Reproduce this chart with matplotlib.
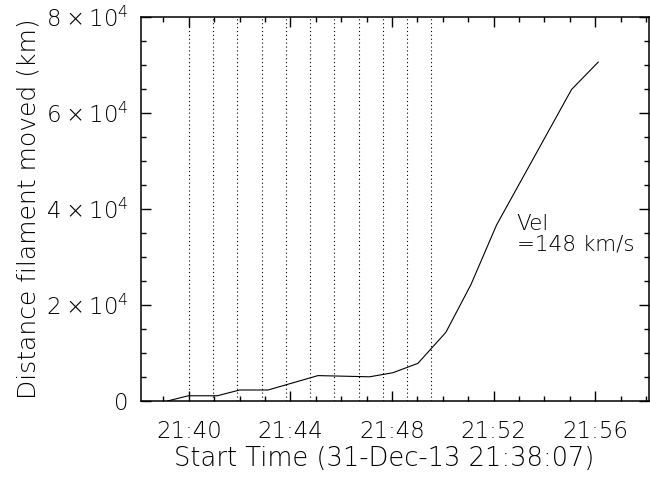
import matplotlib
matplotlib.use('Agg')
import matplotlib.pyplot as plt
from matplotlib.ticker import FixedLocator, MultipleLocator, FuncFormatter

# time axis: seconds after the start time 21:38:07
start_label = 'Start Time (31-Dec-13 21:38:07)'
start_sec = 21 * 3600 + 38 * 60 + 7

# distance the filament moved (km) at each frame
times = [62, 112, 180, 233, 300, 418, 540, 595, 654, 720, 779, 840, 1017, 1080]
distance = [0, 1100, 1100, 2300, 2300, 5300, 5050, 5900, 7850, 14300, 24200,
            36700, 64900, 70600]

# dotted markers for the image frames
frame_times = [113, 170, 227, 285, 342, 399, 456, 514, 571, 628, 685]

major_times = ['21:40', '21:44', '21:48', '21:52', '21:56']
vel_text = 'Vel\n=148 km/s'


def hhmm_to_offset(s):
    h, m = s.split(':')
    return int(h) * 3600 + int(m) * 60 - start_sec


def fmt_y(v, pos):
    if v == 0:
        return '0'
    return r'$%d\times10^{4}$' % round(v / 1e4)


plt.rcParams['font.family'] = 'DejaVu Sans'
plt.rcParams['font.weight'] = 'light'
plt.rcParams['axes.labelweight'] = 'light'
fig = plt.figure(figsize=(6.5, 4.78), dpi=100)
ax = fig.add_axes([0.217, 0.161, 0.7815, 0.8035])

ax.plot(times, distance, color='black', lw=0.8)
for t in frame_times:
    ax.axvline(t, color='black', lw=0.8, ls=(0, (1, 2.5)))

ax.set_xlim(0, 1200)
ax.set_ylim(0, 80000)

major = [hhmm_to_offset(s) for s in major_times]
ax.xaxis.set_major_locator(FixedLocator(major))
ax.set_xticklabels(major_times)
minor = [hhmm_to_offset('21:39') + 60 * i for i in range(20)]
ax.xaxis.set_minor_locator(FixedLocator(minor))

ax.yaxis.set_major_locator(MultipleLocator(20000))
ax.yaxis.set_minor_locator(MultipleLocator(5000))
ax.yaxis.set_major_formatter(FuncFormatter(fmt_y))

ax.tick_params(which='both', direction='in', top=True, right=True,
               width=1.0, labelsize=16.5)
ax.tick_params(which='major', length=7)
ax.tick_params(which='minor', length=3.6)
ax.tick_params(axis='x', which='major', pad=14)
ax.tick_params(axis='y', which='major', pad=9)
for sp in ax.spines.values():
    sp.set_linewidth(1.1)

ax.set_xlabel(start_label, fontsize=18.5, labelpad=3)
ax.xaxis.set_label_coords(0.478, -0.118)
ax.set_ylabel('Distance filament moved (km)', fontsize=18, labelpad=4)

ax.text(887, 39000, vel_text, fontsize=15.5, ha='left', va='top', linespacing=1.05)

fig.savefig('out.png', dpi=100)
